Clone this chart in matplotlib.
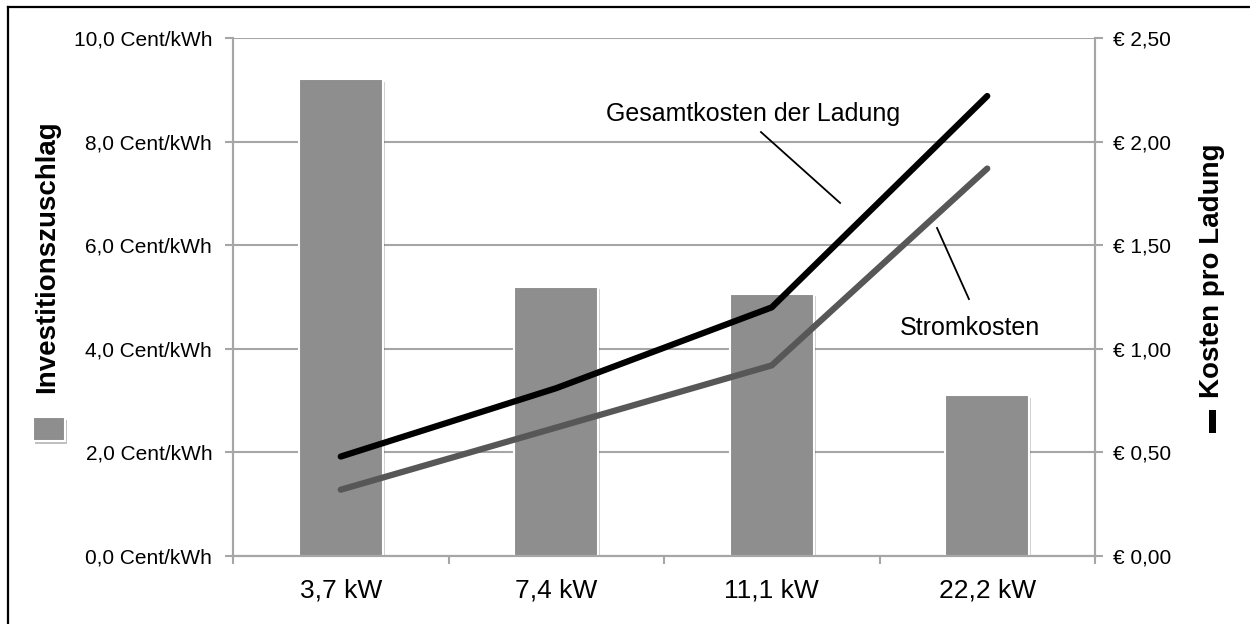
import matplotlib
matplotlib.use('Agg')
import matplotlib.pyplot as plt
import matplotlib.patheffects as pe
from matplotlib.lines import Line2D
from matplotlib.patches import Rectangle
import numpy as np

plt.rcParams['font.family'] = ['Liberation Sans', 'DejaVu Sans']

# charging power classes
categories = ['3,7 kW', '7,4 kW', '11,1 kW', '22,2 kW']
# investment surcharge, Cent/kWh (bars, left axis)
invest = [9.2, 5.2, 5.05, 3.1]
# cost per charge in EUR (lines, right axis)
gesamt = [0.48, 0.81, 1.20, 2.22]
strom = [0.32, 0.62, 0.92, 1.87]

left_ticks = [0, 2, 4, 6, 8, 10]
right_ticks = [0, 0.5, 1.0, 1.5, 2.0, 2.5]

W, H = 1250, 624
GRID = '#a6a6a6'
BAR = '#8e8e8e'


def px(x, y):
    """pixel position -> figure fraction"""
    return x / W, 1 - y / H


fig = plt.figure(figsize=(W / 100, H / 100), dpi=100)
x0, y1 = px(233, 556)
x1, y0 = px(1095, 38)
ax = fig.add_axes([x0, y1, x1 - x0, y0 - y1])
ax2 = ax.twinx()

x = np.arange(len(categories))
bars = ax.bar(x, invest, width=0.39, color=BAR, edgecolor='white',
              linewidth=1.5, zorder=3)
for b in bars:
    b.set_path_effects([pe.SimplePatchShadow(offset=(1.5, -1.5), alpha=0.18,
                                             shadow_rgbFace='black'),
                        pe.Normal()])

ax.set_xlim(-0.5, len(categories) - 0.5)
ax.set_ylim(0, 10)
ax.set_yticks(left_ticks)
ax.set_yticklabels([f'{v:.1f}'.replace('.', ',') + ' Cent/kWh' for v in left_ticks])
ax.yaxis.grid(True, color=GRID, linewidth=1.5, zorder=0)
ax.set_axisbelow(True)

ax.set_xticks(x)
ax.set_xticklabels(categories, fontsize=19)
ax.set_xticks(np.arange(-0.5, len(categories)), minor=True)
ax.tick_params(axis='x', which='major', length=0, pad=16)
ax.tick_params(axis='x', which='minor', length=6, width=1.5, color=GRID,
               direction='out')
ax.tick_params(axis='y', length=6, width=1.5, color=GRID, labelsize=15, pad=9)

ax2.plot(x, gesamt, color='black', linewidth=4.5, solid_capstyle='round',
         zorder=4)
ax2.plot(x, strom, color='#575757', linewidth=4.5, solid_capstyle='round',
         zorder=4)
ax2.set_ylim(0, 2.5)
ax2.set_yticks(right_ticks)
ax2.set_yticklabels(['€ ' + f'{v:.2f}'.replace('.', ',') for v in right_ticks])
ax2.tick_params(axis='y', length=6, width=1.5, color=GRID, labelsize=15, pad=7)

for a in (ax, ax2):
    a.spines['top'].set_visible(False)
    for s in ('left', 'right', 'bottom'):
        a.spines[s].set_color(GRID)
        a.spines[s].set_linewidth(1.5)

# callouts for the two cost lines
ax2.text(2.595, 2.10, 'Gesamtkosten der Ladung', fontsize=18, ha='right',
         va='baseline')
ax2.plot([1.950, 2.317], [2.046, 1.704], color='black', linewidth=1.3)
ax2.text(3.245, 1.067, 'Stromkosten', fontsize=18, ha='right', va='baseline')
ax2.plot([2.767, 2.915], [1.583, 1.240], color='black', linewidth=1.3)

# axis titles with their legend keys
fig.text(*px(47, 257), 'Investitionszuschlag', rotation=90, fontsize=20,
         fontweight='bold', ha='center', va='center')
fig.text(*px(1212, 271), 'Kosten pro Ladung', rotation=90, fontsize=20,
         fontweight='bold', ha='center', va='center')

key = Rectangle(px(33, 441), 32 / W, 24 / H, transform=fig.transFigure,
                facecolor=BAR, edgecolor='white', linewidth=1.5)
key.set_path_effects([pe.SimplePatchShadow(offset=(1.5, -2.5), alpha=0.3),
                      pe.Normal()])
fig.add_artist(key)
fig.add_artist(Rectangle(px(1209, 433), 7 / W, 23 / H,
                         transform=fig.transFigure, facecolor='black',
                         edgecolor='none'))

# frame
fig.add_artist(Line2D([8 / W, 1], [1 - 7 / H] * 2, color='black',
                      linewidth=1.6, transform=fig.transFigure))
fig.add_artist(Line2D([8 / W] * 2, [0, 1 - 7 / H], color='black',
                      linewidth=1.6, transform=fig.transFigure))

fig.savefig('out.png', dpi=100)
